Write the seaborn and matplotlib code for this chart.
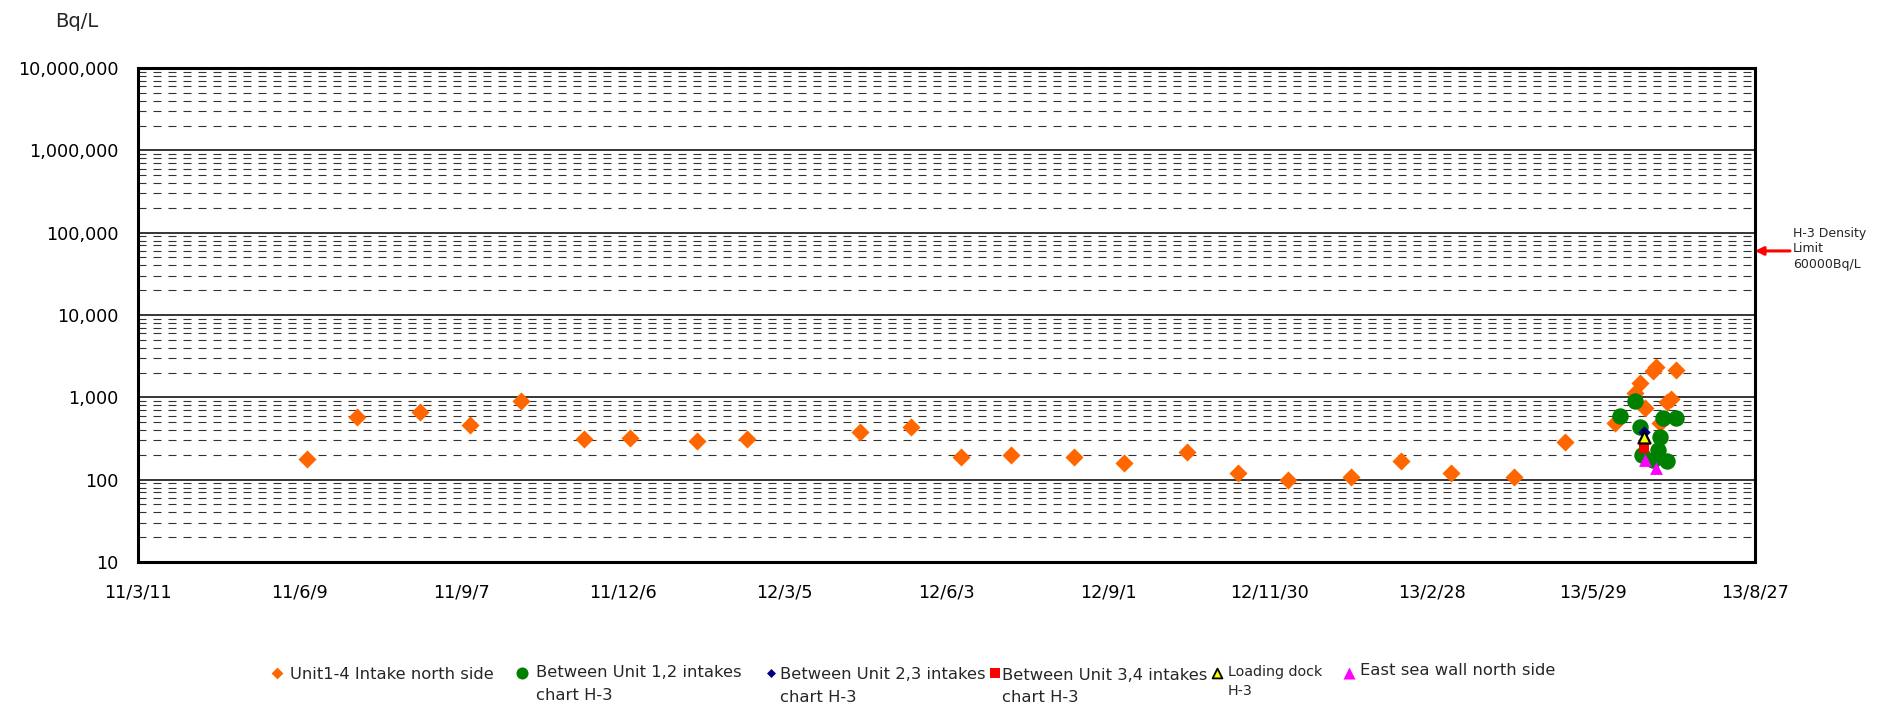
import numpy as np
import pandas as pd
import matplotlib
matplotlib.use("Agg")
import matplotlib.pyplot as plt
import matplotlib.ticker as mticker
import seaborn as sns

# H-3 (tritium) concentrations in sea water near the intakes, Bq/L
unit14_north_dates = [
    "2011-06-13", "2011-07-11", "2011-08-15", "2011-09-12", "2011-10-10",
    "2011-11-14", "2011-12-10", "2012-01-16", "2012-02-13", "2012-04-16",
    "2012-05-14", "2012-06-11", "2012-07-09", "2012-08-13", "2012-09-10",
    "2012-10-15", "2012-11-12", "2012-12-10", "2013-01-14", "2013-02-11",
    "2013-03-11", "2013-04-15", "2013-05-13", "2013-06-10", "2013-06-21",
    "2013-06-24", "2013-06-27", "2013-07-01", "2013-07-03", "2013-07-05",
    "2013-07-09", "2013-07-11", "2013-07-14",
]
unit14_north_vals = [
    180, 570, 670, 460, 910,
    315, 325, 295, 315, 383,
    440, 187, 198, 187, 158,
    217, 119, 99, 109, 167,
    119, 109, 284, 492, 1120,
    1480, 750, 2110, 2320, 484,
    885, 946, 2170,
]

unit12_dates = [
    "2013-06-13", "2013-06-21", "2013-06-24", "2013-06-25", "2013-07-01",
    "2013-07-04", "2013-07-05", "2013-07-07", "2013-07-09", "2013-07-14",
]
unit12_vals = [593, 910, 432, 200, 173, 229, 327, 566, 169, 556]

unit23_dates = ["2013-06-26"]
unit23_vals = [383]

unit34_dates = ["2013-06-26"]
unit34_vals = [244]

dock_dates = ["2013-06-26"]
dock_vals = [327]

seawall_dates = ["2013-06-27", "2013-07-03"]
seawall_vals = [175, 137]

density_limit = 60000

legend_labels = [
    ["Unit1-4 Intake north side"],
    ["Between Unit 1,2 intakes", "chart H-3"],
    ["Between Unit 2,3 intakes", "chart H-3"],
    ["Between Unit 3,4 intakes", "chart H-3"],
    ["Loading dock", "H-3"],
    ["East sea wall north side"],
]

W, H = 1883, 706

sns.set_style("white")
plt.rcParams["font.family"] = ["DejaVu Sans"]

fig = plt.figure(figsize=(W / 100, H / 100), dpi=100)
ax = fig.add_axes([138 / W, 1 - 562 / H, (1755 - 138) / W, (562 - 68) / H])

series = [
    (unit14_north_dates, unit14_north_vals,
     dict(marker="D", color="#FF6600", s=85, linewidth=0, zorder=3)),
    (unit12_dates, unit12_vals,
     dict(marker="o", color="#008000", s=140, linewidth=0, zorder=4)),
    (unit23_dates, unit23_vals,
     dict(marker="D", color="#000080", s=40, linewidth=0, zorder=5)),
    (unit34_dates, unit34_vals,
     dict(marker="s", color="#FF0000", s=60, linewidth=0, zorder=6)),
    (dock_dates, dock_vals,
     dict(marker="^", color="#FFFF00", s=75, edgecolor="black", linewidth=1.6, zorder=7)),
    (seawall_dates, seawall_vals,
     dict(marker="^", color="#FF00FF", s=85, linewidth=0, zorder=8)),
]
for dates, vals, style in series:
    sns.scatterplot(x=pd.to_datetime(dates), y=vals, ax=ax, legend=False, **style)

ax.set_xlabel("")
ax.set_ylabel("")

# log scale with solid decade lines and dashed 2..9 lines
ax.set_yscale("log")
ax.set_ylim(10, 1e7)
ax.yaxis.set_major_locator(mticker.LogLocator(base=10, numticks=20))
ax.yaxis.set_minor_locator(mticker.LogLocator(base=10, subs=np.arange(2, 10), numticks=20))
ax.yaxis.set_minor_formatter(mticker.NullFormatter())
ax.yaxis.set_major_formatter(mticker.FuncFormatter(lambda v, p: f"{int(round(v)):,}"))
ax.grid(axis="y", which="major", color="black", lw=1.1, ls="-")
ax.grid(axis="y", which="minor", color="#333333", lw=0.8, ls=(0, (7.2, 6.3)))
ax.grid(axis="x", visible=False)
ax.set_axisbelow(True)

# date axis: 90-day steps labelled yy/m/d
start, end = pd.Timestamp("2011-03-11"), pd.Timestamp("2013-08-27")
ticks = pd.date_range(start, end, freq="90D")
ax.set_xlim(start, end)
ax.set_xticks(ticks)
ax.set_xticklabels([f"{t.year % 100}/{t.month}/{t.day}" for t in ticks])
ax.xaxis.set_minor_locator(mticker.NullLocator())

ax.tick_params(axis="y", which="both", length=0, pad=14, labelsize=12.7, colors="black")
ax.tick_params(axis="x", which="major", direction="in", length=5, width=1,
               pad=15.5, labelsize=12.7, colors="black")
for sp in ax.spines.values():
    sp.set_visible(True)
    sp.set_color("black")
    sp.set_linewidth(2.2)

# pixel-space overlay for the unit label, limit note and legend
ov = fig.add_axes([0, 0, 1, 1])
ov.set_xlim(0, W)
ov.set_ylim(H, 0)
ov.axis("off")

ov.text(55, 27, "Bq/L", fontsize=14, ha="left", va="baseline")

ax.annotate("", xy=(1.0, density_limit), xycoords=ax.get_yaxis_transform(),
            xytext=(1790, density_limit), textcoords=(ov.transData, ax.transData),
            arrowprops=dict(arrowstyle="-|>", color="#FF0000", lw=2.2,
                            mutation_scale=12, shrinkA=0, shrinkB=0),
            annotation_clip=False)
ov.text(1793, 249, f"H-3 Density\nLimit\n{density_limit}Bq/L", fontsize=9,
        ha="left", va="center", linespacing=1.25)

legend_markers = [
    dict(marker="D", color="#FF6600", s=36, linewidth=0),
    dict(marker="o", color="#008000", s=75, linewidth=0),
    dict(marker="D", color="#000080", s=21, linewidth=0),
    dict(marker="s", color="#FF0000", s=45, linewidth=0),
    dict(marker="^", color="#FFFF00", s=50, edgecolor="black", linewidth=1.3),
    dict(marker="^", color="#FF00FF", s=75, linewidth=0),
]
marker_x = [277, 522, 771, 995, 1217, 1349]
text_x = [290, 536, 780, 1002, 1228, 1360]
baselines = [[679], [677, 699.5], [679, 702], [680, 702], [676, 695], [675]]
font_sizes = [11.8, 11.8, 11.8, 11.8, 10.3, 11.8]

for mk, mx, tx, lines, ys, fs in zip(legend_markers, marker_x, text_x,
                                     legend_labels, baselines, font_sizes):
    ov.scatter([mx], [673], **mk)
    for line, y in zip(lines, ys):
        ov.text(tx, y, line, fontsize=fs, ha="left", va="baseline")

fig.savefig("out.png", dpi=100)
